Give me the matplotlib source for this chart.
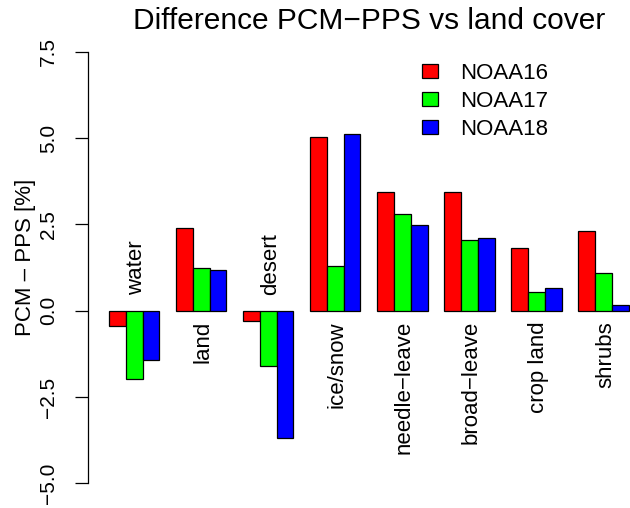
import numpy as np
import matplotlib.pyplot as plt
from matplotlib.patches import Patch

plt.rcParams['font.family'] = ['Liberation Sans', 'DejaVu Sans']

# Mean PCM - PPS difference per land cover class and satellite
categories = ["water", "land", "desert", "ice/snow", "needle\u2212leave",
              "broad\u2212leave", "crop land", "shrubs"]
noaa16 = [-0.45, 2.40, -0.31, 5.03, 3.45, 3.45, 1.82, 2.32]
noaa17 = [-1.97, 1.23, -1.59, 1.29, 2.79, 2.05, 0.53, 1.10]
noaa18 = [-1.43, 1.18, -3.68, 5.13, 2.48, 2.12, 0.65, 0.17]
series = ["NOAA16", "NOAA17", "NOAA18"]
colors = ["#ff0000", "#00ff00", "#0000ff"]
yticks = [-5.0, -2.5, 0.0, 2.5, 5.0, 7.5]

fig = plt.figure(figsize=(6.30, 5.08), dpi=100)
# plot region runs a little past the right edge of the figure
ax = fig.add_axes([88.3 / 630, 7.5 / 508, 561.1 / 630, 465.8 / 508])

# grouped bars, barplot style: one bar width of space before each group
ngroups = len(categories)
for i, (vals, col) in enumerate(zip([noaa16, noaa17, noaa18], colors)):
    x = 1 + 4 * np.arange(ngroups) + i
    ax.bar(x, vals, width=1, align='edge', color=col, edgecolor='black',
           linewidth=0.9, clip_on=False)

# class names written next to the zero line
for g, name in enumerate(categories):
    xc = 1 + 4 * g + 1.5
    if noaa16[g] < 0:
        ax.annotate(name, (xc, 0.46), xytext=(2, 0), textcoords='offset pixels',
                    rotation=90, ha='center', va='bottom', fontsize=16)
    else:
        ax.annotate(name, (xc, -0.3), xytext=(2, 0), textcoords='offset pixels',
                    rotation=90, ha='center', va='top', fontsize=16)

ax.set_xlim(-0.24, 33.24)
ax.set_ylim(-5.5, 8.0)
for side in ['top', 'right', 'bottom']:
    ax.spines[side].set_visible(False)
ax.spines['left'].set_bounds(-5.0, 7.5)
ax.spines['left'].set_linewidth(0.9)
ax.set_xticks([])
ax.set_yticks(yticks)
ax.set_yticklabels([f"{v:.1f}".replace('-', '\u2212') for v in yticks])
ax.tick_params(axis='y', length=9.4, width=0.9, pad=12.5, labelsize=15,
               labelrotation=90)
for lab in ax.get_yticklabels():
    lab.set_va('center')

ax.set_ylabel("PCM \u2013 PPS [%]", fontsize=16)
ax.yaxis.set_label_coords((36.5 - 88.3) / 561.1, 0.521)

ax.set_title("Difference PCM\u2212PPS vs land cover", fontsize=21.5, pad=0)

handles = [Patch(facecolor=c, edgecolor='black', linewidth=0.9) for c in colors]
ax.legend(handles, series, loc='upper left', bbox_to_anchor=(421.7 / 630, 1 - 63.2 / 508),
          bbox_transform=fig.transFigure, frameon=False, fontsize=16,
          handlelength=0.75, handleheight=0.6, handletextpad=0.98,
          labelspacing=0.30, borderpad=0, borderaxespad=0)

fig.savefig("out.png", dpi=100)
